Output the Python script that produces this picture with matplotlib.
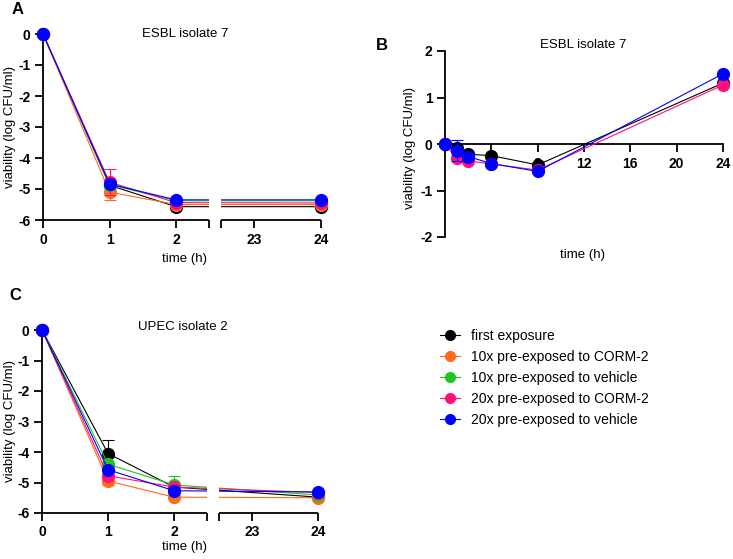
import numpy as np
import matplotlib
matplotlib.use("Agg")
import matplotlib.pyplot as plt
from matplotlib.lines import Line2D

plt.rcParams['font.family'] = ['Liberation Sans', 'DejaVu Sans']

# ---------------- data ----------------
series_names = ["first exposure", "10x pre-exposed to CORM-2", "10x pre-exposed to vehicle",
                "20x pre-exposed to CORM-2", "20x pre-exposed to vehicle"]
series_colors = ["#000000", "#FF6A1C", "#22C422", "#FF1178", "#0000FF"]

nan = np.nan
# Panel A: ESBL isolate 7 (broken axis)
a_time = [0, 1, 2, 24]
a_black = [0, -4.88, -5.57, -5.57]
a_orange = [0, -5.10, -5.50, -5.50]
a_green = [0, -4.86, -5.38, -5.38]
a_pink = [0, -4.78, -5.44, -5.45]
a_blue = [0, -4.84, -5.35, -5.35]
a_orange_err = [nan, 0.25, nan, nan]
a_pink_err = [nan, 0.42, nan, nan]

# Panel B: ESBL isolate 7 (growth)
b_time = [0, 1, 2, 4, 8, 24]
b_black = [0, -0.08, -0.22, -0.25, -0.45, 1.31]
b_pink = [0, -0.31, -0.36, -0.43, -0.56, 1.27]
b_blue = [0, -0.14, -0.27, -0.42, -0.59, 1.51]
b_blue_err = [nan, 0.23, nan, nan, nan, nan]

# Panel C: UPEC isolate 2 (broken axis)
c_time = [0, 1, 2, 24]
c_black = [0, -4.05, -5.15, -5.48]
c_orange = [0, -4.95, -5.48, -5.50]
c_green = [0, -4.40, -5.08, -5.41]
c_pink = [0, -4.78, -5.15, -5.33]
c_blue = [0, -4.58, -5.27, -5.31]
c_black_err = [nan, 0.45, nan, nan]
c_orange_err = [nan, 0.13, nan, nan]
c_green_err = [nan, nan, 0.28, nan]

broken_ticks = [0, 1, 2, 2.5, 22.5, 23, 24]
broken_ticklabels = ["0", "1", "2", "", "", "23", "24"]
y_ticks_ac = [0, -1, -2, -3, -4, -5, -6]
b_xticks = [0, 4, 8, 12, 16, 20, 24]
b_xticklabels = ["", "4", "8", "12", "16", "20", "24"]
b_yticks = [-2, -1, 0, 1, 2]

# ---------------- figure ----------------
W, H = 733, 559
fig = plt.figure(figsize=(W / 100, H / 100), dpi=100)


def rect(l, r, t, b):
    return [l / W, 1 - b / H, (r - l) / W, (b - t) / H]


def ftext(x, y, s, **kw):
    fig.text(x / W, 1 - y / H, s, **kw)


GAP = 0.18


def fwd(t):
    t = np.asarray(t, dtype=float)
    return np.where(t <= 2.5, t,
                    np.where(t >= 22.5, t - 22.5 + 2.5 + GAP, 2.5 + (t - 2.5) * GAP / 20.0))


def inv(u):
    u = np.asarray(u, dtype=float)
    return np.where(u <= 2.5, u,
                    np.where(u >= 2.5 + GAP, u - 2.5 - GAP + 22.5, 2.5 + (u - 2.5) * 20.0 / GAP))


SPW = 1.3
MS = 8.5
LW = 0.8


def plot_series(ax, t, y, color, err=None):
    if err is None:
        err = [nan] * len(t)
    cont = ax.errorbar(t, y, yerr=err, color=color, marker='o', ms=MS, lw=LW,
                       elinewidth=LW, capsize=4, capthick=LW, zorder=3)
    for art in cont.get_children():
        art.set_clip_on(False)
        art.set_zorder(3)


def style_common(ax):
    for s in ['top', 'right']:
        ax.spines[s].set_visible(False)
    for s in ['left', 'bottom']:
        ax.spines[s].set_linewidth(SPW)
    ax.tick_params(axis='both', which='major', length=6, width=SPW, direction='out',
                   labelsize=10, pad=3)
    for lab in ax.get_xticklabels() + ax.get_yticklabels():
        lab.set_fontweight('bold')


def broken_panel(rc, series):
    ax = fig.add_axes(rc)
    ax.set_xscale('function', functions=(fwd, inv))
    ax.set_xlim(0, 24)
    ax.set_ylim(-6, 0)
    for t, y, c, e in series:
        plot_series(ax, t, y, c, e)
    ax.axvspan(2.5, 22.5, color='white', zorder=3.5, lw=0)
    ax.set_xticks(broken_ticks)
    ax.set_xticklabels(broken_ticklabels)
    ax.set_yticks(y_ticks_ac)
    ax.set_yticklabels([str(v) for v in y_ticks_ac])
    ax.spines['bottom'].set_bounds(0, 2.5)
    ax.plot([22.5, 24], [0, 0], transform=ax.get_xaxis_transform(), color='black',
            lw=SPW, clip_on=False, solid_capstyle='butt', zorder=2.5)
    style_common(ax)
    return ax


axA = broken_panel(rect(43, 321, 34, 220), [
    (a_time, a_black, series_colors[0], None),
    (a_time, a_orange, series_colors[1], a_orange_err),
    (a_time, a_green, series_colors[2], None),
    (a_time, a_pink, series_colors[3], a_pink_err),
    (a_time, a_blue, series_colors[4], None),
])

axC = broken_panel(rect(42, 318, 330, 513), [
    (c_time, c_black, series_colors[0], c_black_err),
    (c_time, c_orange, series_colors[1], c_orange_err),
    (c_time, c_green, series_colors[2], c_green_err),
    (c_time, c_pink, series_colors[3], None),
    (c_time, c_blue, series_colors[4], None),
])

# Panel B
axB = fig.add_axes(rect(445, 723, 51, 237))
axB.set_xlim(0, 24)
axB.set_ylim(-2, 2)
plot_series(axB, b_time, b_black, series_colors[0])
plot_series(axB, b_time, b_pink, series_colors[3])
plot_series(axB, b_time, b_blue, series_colors[4], b_blue_err)
axB.spines['bottom'].set_position(('data', 0))
axB.set_xticks(b_xticks)
axB.set_xticklabels(b_xticklabels)
axB.set_yticks(b_yticks)
axB.set_yticklabels([str(v) for v in b_yticks])
style_common(axB)

# ---------------- texts ----------------
ftext(18, 9, "A", fontsize=12, fontweight='bold', ha='center', va='center')
ftext(382, 45, "B", fontsize=12, fontweight='bold', ha='center', va='center')
ftext(15, 295, "C", fontsize=12, fontweight='bold', ha='center', va='center')

ftext(185, 34, "ESBL isolate 7", fontsize=9.5, ha='center', va='center')
ftext(583, 45, "ESBL isolate 7", fontsize=9.5, ha='center', va='center')
ftext(183, 327, "UPEC isolate 2", fontsize=9.5, ha='center', va='center')

for x, y in [(10, 127), (410, 148), (10, 421)]:
    ftext(x, y, "viability (log CFU/ml)", fontsize=9.5, rotation=90, ha='center', va='center')

ftext(185, 259, "time (h)", fontsize=9.5, ha='center', va='center')
ftext(583, 255, "time (h)", fontsize=9.5, ha='center', va='center')
ftext(185, 547, "time (h)", fontsize=9.5, ha='center', va='center')

# ---------------- legend ----------------
handles = [Line2D([], [], color=c, marker='o', ms=7, lw=LW) for c in series_colors]
fig.legend(handles, series_names, loc='upper left', bbox_to_anchor=(440 / W, 1 - 329 / H),
           frameon=False, fontsize=10, handlelength=1.45, handletextpad=0.75,
           labelspacing=0.5, borderpad=0, borderaxespad=0)

fig.savefig("out.png", dpi=100)
